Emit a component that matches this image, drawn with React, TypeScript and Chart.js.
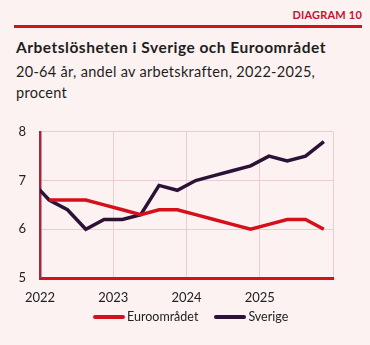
import React, { useEffect, useRef } from "react";
import { Chart, registerables } from "chart.js";

Chart.register(...registerables);

// Quarter labels (x positions are the middle of each quarter)
const quarters = [
  "2021K4", "2022K1", "2022K2", "2022K3", "2022K4",
  "2023K1", "2023K2", "2023K3", "2023K4",
  "2024K1", "2024K2", "2024K3", "2024K4",
  "2025K1", "2025K2", "2025K3", "2025K4",
];
const euroValues: (number | null)[] = [
  null, 6.6, 6.6, 6.6, 6.5,
  6.4, 6.3, 6.4, 6.4,
  6.3, 6.2, 6.1, 6.0,
  6.1, 6.2, 6.2, 6.0,
];
const swedenValues: number[] = [
  7.0, 6.6, 6.4, 6.0, 6.2,
  6.2, 6.3, 6.9, 6.8,
  7.0, 7.1, 7.2, 7.3,
  7.5, 7.4, 7.5, 7.8,
];
const seriesNames = ["Euroområdet", "Sverige"];
const yearTicks = [2022, 2023, 2024, 2025];
const yTicks = [5, 6, 7, 8];

const FONT = "Lato, 'Noto Sans', sans-serif";
const RED = "#d6101b";
const PURPLE = "#2b1236";
const BG = "#fcf2f2";
const seriesColors = [RED, PURPLE];

function quarterToX(q: string): number {
  const year = parseInt(q.slice(0, 4), 10);
  const k = parseInt(q.slice(5), 10);
  return year + (k - 0.5) / 4;
}

export default function App() {
  const canvasRef = useRef<HTMLCanvasElement | null>(null);

  useEffect(() => {
    document.body.style.margin = "0";
    const ctx = canvasRef.current!;
    const chart = new Chart(ctx, {
      type: "line",
      data: {
        datasets: [
          {
            label: seriesNames[0],
            data: quarters.map((q, i) => ({ x: quarterToX(q), y: euroValues[i] as any })),
            borderColor: RED,
            backgroundColor: RED,
            borderWidth: 3.5,
            pointRadius: 0,
            tension: 0,
            spanGaps: false,
          },
          {
            label: seriesNames[1],
            data: quarters.map((q, i) => ({ x: quarterToX(q), y: swedenValues[i] })),
            borderColor: PURPLE,
            backgroundColor: PURPLE,
            borderWidth: 3.5,
            pointRadius: 0,
            tension: 0,
          },
        ],
      },
      options: {
        animation: false,
        responsive: false,
        maintainAspectRatio: false,
        layout: { padding: { left: 0, right: 37, top: 9.2, bottom: 27.4 } },
        plugins: {
          title: { display: false },
          tooltip: { enabled: false },
          legend: { display: false },
        },
        scales: {
          x: {
            type: "linear",
            min: 2022,
            max: 2026,
            afterBuildTicks: (s: any) => {
              s.ticks = [...yearTicks, 2026].map((v) => ({ value: v }));
            },
            ticks: {
              callback: (v: any) => (yearTicks.includes(v) ? String(v) : ""),
              color: "#222",
              font: { family: FONT, size: 13 },
              padding: 12,
              maxRotation: 0,
            },
            grid: { color: "#e9cdd0", lineWidth: 1, drawTicks: false },
            border: { color: RED, width: 3 },
          },
          y: {
            min: 5,
            max: 8,
            afterBuildTicks: (s: any) => {
              s.ticks = yTicks.map((v) => ({ value: v }));
            },
            afterFit: (s: any) => {
              s.width = 40;
            },
            ticks: {
              color: "#222",
              font: { family: FONT, size: 13 },
              padding: 14,
            },
            grid: { color: "#e9cdd0", lineWidth: 1, drawTicks: false },
            border: { color: "#a3283b", width: 2.5 },
          },
        },
      },
    } as any);
    return () => chart.destroy();
  }, []);

  return (
    <div
      style={{
        position: "relative",
        width: 370,
        height: 345,
        background: BG,
        fontFamily: FONT,
        overflow: "hidden",
      }}
    >
      <div
        style={{
          position: "absolute",
          right: 8,
          top: 8,
          fontSize: 11,
          fontWeight: 700,
          color: "#c8102e",
          letterSpacing: 0.2,
        }}
      >
        DIAGRAM 10
      </div>
      <div
        style={{
          position: "absolute",
          left: 14,
          top: 25,
          width: 348,
          height: 3,
          background: RED,
        }}
      />
      <div
        style={{
          position: "absolute",
          left: 16,
          top: 38,
          fontSize: 15.5,
          fontWeight: 700,
          letterSpacing: 0.5,
          color: "#1e1e1e",
          whiteSpace: "nowrap",
        }}
      >
        Arbetslösheten i Sverige och Euroområdet
      </div>
      <div
        style={{
          position: "absolute",
          left: 16,
          top: 61,
          width: 340,
          fontSize: 14.5,
          lineHeight: "21px",
          letterSpacing: 0.3,
          color: "#1e1e1e",
        }}
      >
        20-64 år, andel av arbetskraften, 2022-2025,
        <br />
        procent
      </div>
      <canvas
        ref={canvasRef}
        width={370}
        height={235}
        style={{ position: "absolute", left: 0, top: 110, width: 370, height: 235 }}
      />
      <div
        style={{
          position: "absolute",
          left: 93,
          top: 309,
          display: "flex",
          alignItems: "center",
          fontSize: 12.5,
          lineHeight: "16px",
          color: "#222",
        }}
      >
        {seriesNames.map((name, i) => (
          <div
            key={name}
            style={{ display: "flex", alignItems: "center", marginRight: i === 0 ? 16 : 0 }}
          >
            <span
              style={{
                display: "inline-block",
                width: 32,
                height: 4,
                borderRadius: 2,
                background: seriesColors[i],
                marginRight: 2,
              }}
            />
            <span>{name}</span>
          </div>
        ))}
      </div>
    </div>
  );
}
